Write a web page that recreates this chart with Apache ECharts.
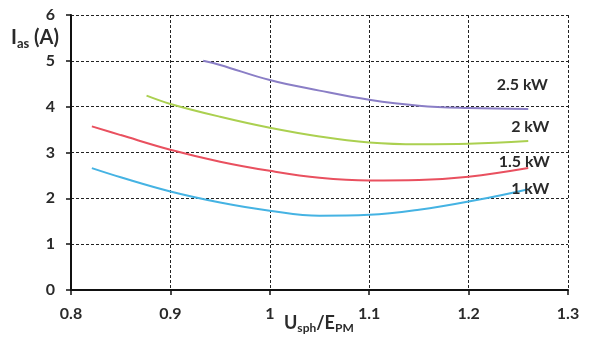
<!DOCTYPE html>
<html><head><meta charset="utf-8">
<script src="https://cdn.jsdelivr.net/npm/echarts@6/dist/echarts.min.js"></script>
<style>html,body{margin:0;padding:0;background:#fff}#c{width:589px;height:345px}</style>
</head><body><div id="c"></div>
<script>
const xTicks = [0.8, 0.9, 1.0, 1.1, 1.2, 1.3];
const yTicks = [0, 1, 2, 3, 4, 5, 6];
const seriesNames = ['1 kW', '1.5 kW', '2 kW', '2.5 kW'];
const x1 = [0.821, 0.85, 0.9, 0.95, 1.0, 1.05, 1.1, 1.15, 1.2, 1.26];
const y1 = [2.66, 2.46, 2.15, 1.91, 1.73, 1.62, 1.64, 1.75, 1.93, 2.2];
const x15 = [0.821, 0.85, 0.9, 0.95, 1.0, 1.05, 1.1, 1.15, 1.2, 1.26];
const y15 = [3.57, 3.38, 3.06, 2.80, 2.60, 2.45, 2.39, 2.40, 2.47, 2.66];
const x2 = [0.876, 0.9, 0.95, 1.0, 1.05, 1.1, 1.15, 1.2, 1.26];
const y2 = [4.24, 4.06, 3.78, 3.54, 3.35, 3.22, 3.18, 3.19, 3.25];
const x25 = [0.933, 0.95, 1.0, 1.05, 1.1, 1.15, 1.2, 1.26];
const y25 = [5.0, 4.91, 4.58, 4.35, 4.15, 4.02, 3.97, 3.95];
const labelPos = [[1.262, 2.2], [1.256, 2.79], [1.262, 3.56], [1.254, 4.48]];
const colors = ['#45b3e3', '#e9505f', '#abd050', '#8a7ec6'];

const xs = [x1, x15, x2, x25], ys = [y1, y15, y2, y25];
const font = 'Lato, "Open Sans", sans-serif';
const chart = echarts.init(document.getElementById('c'));
chart.setOption({
  animation: false,
  grid: {left: 71, right: 21, top: 15, bottom: 55},
  xAxis: {
    type: 'value', min: xTicks[0], max: xTicks[xTicks.length - 1], interval: 0.1,
    axisLine: {lineStyle: {color: '#111', width: 2}},
    axisTick: {show: true, length: 5, lineStyle: {color: '#111', width: 1.5}},
    axisLabel: {color: '#2a2a2a', fontSize: 16, fontWeight: 'bold', fontFamily: font, margin: 16},
    splitLine: {show: true, lineStyle: {color: '#222', type: [3, 2], width: 1}}
  },
  yAxis: {
    type: 'value', min: yTicks[0], max: yTicks[yTicks.length - 1], interval: 1,
    axisLine: {show: true, lineStyle: {color: '#111', width: 2}},
    axisTick: {show: true, length: 5, lineStyle: {color: '#111', width: 1.5}},
    axisLabel: {color: '#2a2a2a', fontSize: 16, fontWeight: 'bold', fontFamily: font, margin: 16},
    splitLine: {show: true, lineStyle: {color: '#222', type: [3, 2], width: 1}}
  },
  series: seriesNames.map((n, i) => ({
    name: n, type: 'line', smooth: 0.4, showSymbol: false,
    data: xs[i].map((x, j) => [x, ys[i][j]]),
    lineStyle: {color: colors[i], width: 2},
    markPoint: {
      symbol: 'circle', symbolSize: 0,
      data: [{coord: labelPos[i]}],
      label: {show: true, formatter: n, color: '#2a2a2a', fontSize: 16, fontWeight: 'bold', fontFamily: font, position: 'inside'}
    }
  })),
  graphic: [
    {type: 'text', left: 11, top: 28, style: {
      rich: {
        b: {fontSize: 20, fontWeight: 'bold', fill: '#2a2a2a', fontFamily: font},
        s: {fontSize: 13, fontWeight: 'bold', fill: '#2a2a2a', fontFamily: font, padding: [11, 0, 0, 0]}
      },
      text: '{b|I}{s|as}{b| (A)}'
    }},
    {type: 'text', left: 284, top: 314, style: {
      rich: {
        b: {fontSize: 18, fontWeight: 'bold', fill: '#2a2a2a', fontFamily: font},
        s: {fontSize: 12, fontWeight: 'bold', fill: '#2a2a2a', fontFamily: font, padding: [10, 0, 0, 0]}
      },
      text: '{b|U}{s|sph}{b|/E}{s|PM}'
    }}
  ]
});
</script></body></html>
